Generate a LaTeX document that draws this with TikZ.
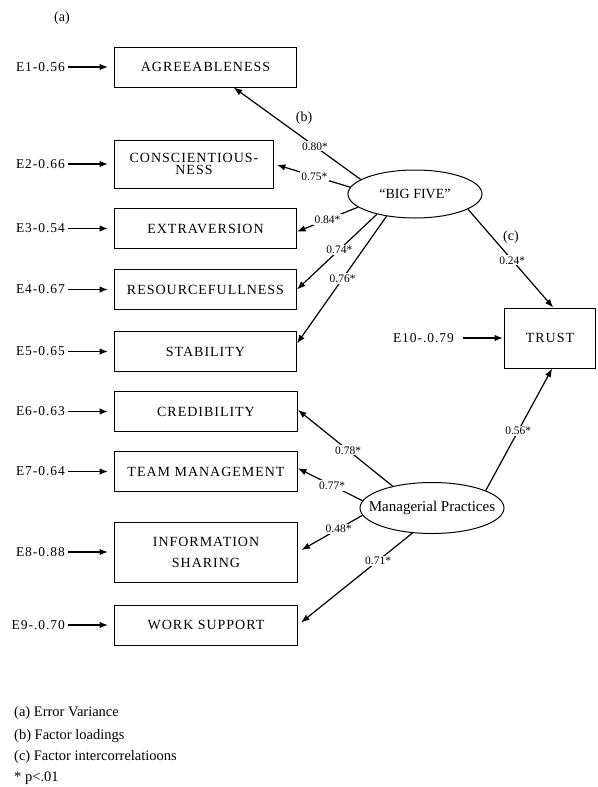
\documentclass[tikz,border=0pt]{standalone}
\usepackage{fontspec}
\setmainfont{Liberation Serif}
\newfontfamily\spaced{Liberation Serif}[LetterSpace=7]
\usetikzlibrary{arrows.meta,shapes.geometric}
\begin{document}
\begin{tikzpicture}[x=1pt,y=-1pt,
  box/.style={draw, line width=1pt, minimum height=40pt, inner sep=2pt, anchor=west,
              font=\spaced\fontsize{14}{16}\selectfont, align=center},
  evar/.style={font=\spaced\fontsize{13.5}{15}\selectfont, anchor=east, inner sep=1pt},
  lat/.style={draw, ellipse, line width=1pt, inner sep=0pt},
  arr/.style={-{Latex[length=8.5pt,width=6.5pt]}, line width=1.2pt},
  lbl/.style={fill=white, inner sep=1.2pt, font=\fontsize{11.5}{12}\selectfont},
  marklbl/.style={font=\fontsize{14}{16}\selectfont},
  note/.style={font=\fontsize{14.5}{16}\selectfont, anchor=west, inner sep=0pt}]
\useasboundingbox (0,0) rectangle (597,787);

% observed variables
\node[box, minimum width=182pt] (a) at (114,67) {AGREEABLENESS};
\node[box, minimum width=159pt, minimum height=48pt, font=\spaced\fontsize{14}{12.5}\selectfont] (c) at (114,164) {CONSCIENTIOUS-\\NESS};
\node[box, minimum width=182pt] (e) at (114,228.5) {EXTRAVERSION};
\node[box, minimum width=182pt] (r) at (114,289.5) {RESOURCEFULLNESS};
\node[box, minimum width=182pt] (s) at (114,351.5) {STABILITY};
\node[box, minimum width=183pt] (cr) at (114,411.5) {CREDIBILITY};
\node[box, minimum width=183pt] (tm) at (114,471.5) {TEAM MANAGEMENT};
\node[box, minimum width=183pt, minimum height=60pt, font=\spaced\fontsize{14}{21}\selectfont] (is) at (114,552) {INFORMATION\\SHARING};
\node[box, minimum width=183pt] (ws) at (114,625) {WORK SUPPORT};
\node[box, minimum width=91pt, minimum height=60pt] (t) at (504,338) {TRUST};

% latent variables
\node[lat, minimum width=134pt, minimum height=48pt] (bf) at (415,194) {};
\node[font=\fontsize{14}{16}\selectfont] (bft) at (bf) {“BIG FIVE”};
\node[lat, minimum width=144pt, minimum height=51pt] (mp) at (432,508) {};
\node[font=\fontsize{15}{17}\selectfont] (mpt) at (mp) {Managerial Practices};

% error variances
\node[evar] (e1) at (66,67) {E1-0.56};
\node[evar] (e2) at (66,164) {E2-0.66};
\node[evar] (e3) at (66,228.5) {E3-0.54};
\node[evar] (e4) at (66,289.5) {E4-0.67};
\node[evar] (e5) at (66,351.5) {E5-0.65};
\node[evar] (e6) at (66,411.5) {E6-0.63};
\node[evar] (e7) at (66,471.5) {E7-0.64};
\node[evar] (e8) at (66,552) {E8-0.88};
\node[evar] (e9) at (66,625) {E9-.0.70};
\node[evar] (e10) at (455,338) {E10-.0.79};

\foreach \u/\v in {e1/a,e2/c,e3/e,e4/r,e5/s,e6/cr,e7/tm,e8/is,e9/ws}
  \draw[arr, shorten <=2pt, shorten >=6pt] (\u.east) -- (\v.west);
\draw[arr, shorten <=8pt, shorten >=1pt] (e10.east) -- (t.west);

% factor loadings
\draw[arr] (bf.165) -- node[lbl, pos=0.36] {0.80*} (a.-36.5);
\draw[arr, shorten >=3pt] (bf.174) -- node[lbl, pos=0.47] {0.75*} (c.east);
\draw[arr] (bf.193) -- node[lbl, pos=0.5] {0.84*} (e.-2);
\draw[arr] (bf.208) -- node[lbl, pos=0.47] {0.74*} (r.east);
\draw[arr] (bf.218) -- node[lbl, pos=0.49] {0.76*} (s.5);
\draw[arr] (mp.151) -- node[lbl, pos=0.47] {0.78*} (cr.1);
\draw[arr] (mp.174) -- node[lbl, pos=0.47] {0.77*} (tm.2);
\draw[arr, shorten >=4pt] (mp.186) -- node[lbl, pos=0.37] {0.48*} (is.east);
\draw[arr, shorten >=4pt] (mp.232) -- node[lbl, pos=0.3] {0.71*} (ws.east);
% factor intercorrelations
\draw[arr] (bf.344) -- node[lbl, pos=0.52] {0.24*} (t.84);
\draw[arr] (mp.18) -- node[lbl, pos=0.49] {0.56*} (t.-86);

% annotation marks
\node[marklbl] (ma) at (62,18) {(a)};
\node[marklbl] (mb) at (304,118) {(b)};
\node[marklbl] (mc) at (511,237) {(c)};

% legend
\node[note] (n1) at (14,713) {(a) Error Variance};
\node[note] (n2) at (14,736) {(b) Factor loadings};
\node[note] (n3) at (14,757) {(c) Factor intercorrelatioons};
\node[note] (n4) at (14,778) {* p<.01};
\end{tikzpicture}
\end{document}
